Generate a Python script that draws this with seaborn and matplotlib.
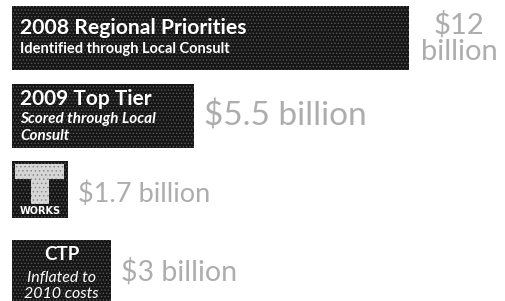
import numpy as np
import matplotlib
matplotlib.use("Agg")
import matplotlib.pyplot as plt
from matplotlib.patches import Rectangle
import seaborn as sns

# chart data
categories = ["2008 Regional Priorities", "2009 Top Tier", "T Works", "CTP"]
values = [12, 5.5, 1.7, 3]
value_labels = ["$12\nbillion", "$5.5 billion", "$1.7 billion", "$3 billion"]
subtitles = ["Identified through Local Consult", "Scored through Local\nConsult", "", "Inflated to\n2010 costs"]

# styling for the value labels
label_sizes = [21, 24, 19.5, 20.5]

BAR_COLOR = "#161616"
SPECKLE = "#555555"
VALUE_COLOR = "#adadad"


def add_logo(ax, p):
    # little T WORKS logo drawn inside the bar box (fractions of the box)
    x0, w = p.get_x(), p.get_width()
    y0, h = p.get_y(), p.get_height()

    def box(fx0, fx1, fy0, fy1, fc, hatch=None):
        r = Rectangle((x0 + fx0 * w, y0 + fy0 * h), (fx1 - fx0) * w, (fy1 - fy0) * h,
                      facecolor=fc, edgecolor="#8a8a8a", linewidth=0, hatch=hatch)
        ax.add_patch(r)

    box(0.06, 0.93, 0.06, 0.32, "#d6d6d6", "....")
    box(0.34, 0.66, 0.32, 0.76, "#d6d6d6", "....")
    ax.text(x0 + 0.5 * w, y0 + 0.885 * h, "WORKS", ha="center", va="center",
            fontsize=7, fontweight="bold", color="white", family="DejaVu Sans")


def draw_chart(save_path="out.png"):
    sns.set_style("white")
    plt.rcParams["font.family"] = ["Lato", "DejaVu Sans"]
    plt.rcParams["hatch.linewidth"] = 0.6

    fig = plt.figure(figsize=(5.06, 3.01), dpi=100)
    ax = fig.add_axes([12 / 506, 0, 494 / 506, 1])

    sns.barplot(x=values, y=categories, orient="h", color=BAR_COLOR,
                saturation=1, width=0.82, ax=ax)

    # px per billion ~33.1, 78 px between rows
    ax.set_xlim(0, 494 / 33.1)
    ax.set_ylim(-0.487 + 301 / 78, -0.487)
    ax.axis("off")

    for i, p in enumerate(ax.patches[:len(values)]):
        p.set_edgecolor(SPECKLE)
        p.set_linewidth(0)
        p.set_hatch(".....")
        if categories[i] == "T Works":
            # logo box is a bit shorter
            h = 0.73
            p.set_y(i - 0.058 - h / 2)
            p.set_height(h)
            logo_patch = p
    add_logo(ax, logo_patch)

    # value labels to the right of each bar
    for i, (v, lab) in enumerate(zip(values, value_labels)):
        if "\n" in lab:
            ax.annotate(lab, xy=(v, i), xytext=(50, 0), textcoords="offset pixels",
                        ha="center", va="center", fontsize=label_sizes[i],
                        color=VALUE_COLOR, linespacing=1.0)
        else:
            ax.annotate(lab, xy=(v, i), xytext=(10, 0), textcoords="offset pixels",
                        ha="left", va="center", fontsize=label_sizes[i],
                        color=VALUE_COLOR)

    # text inside bars
    ax.annotate(categories[0], xy=(0, 0), xytext=(8, 4), textcoords="offset pixels",
                ha="left", va="baseline", fontsize=15.2, fontweight="bold", color="white")
    ax.annotate(subtitles[0], xy=(0, 0), xytext=(8, -15), textcoords="offset pixels",
                ha="left", va="baseline", fontsize=10.5, fontweight="bold", color="white")

    ax.annotate(categories[1], xy=(0, 1), xytext=(8, 11), textcoords="offset pixels",
                ha="left", va="baseline", fontsize=15, fontweight="bold", color="white")
    ax.annotate(subtitles[1], xy=(0, 1), xytext=(8, 4), textcoords="offset pixels",
                ha="left", va="top", fontsize=11, fontweight="bold", style="italic",
                color="white", linespacing=1.3)

    ax.annotate(categories[3], xy=(values[3] / 2, 3), xytext=(0, 12), textcoords="offset pixels",
                ha="center", va="baseline", fontsize=13.5, fontweight="bold", color="white")
    ax.annotate(subtitles[3], xy=(values[3] / 2, 3), xytext=(0, 1), textcoords="offset pixels",
                ha="center", va="top", fontsize=11.5, style="italic", color="white",
                linespacing=1.15)

    fig.savefig(save_path, dpi=100)
    plt.close(fig)


if __name__ == "__main__":
    draw_chart()
